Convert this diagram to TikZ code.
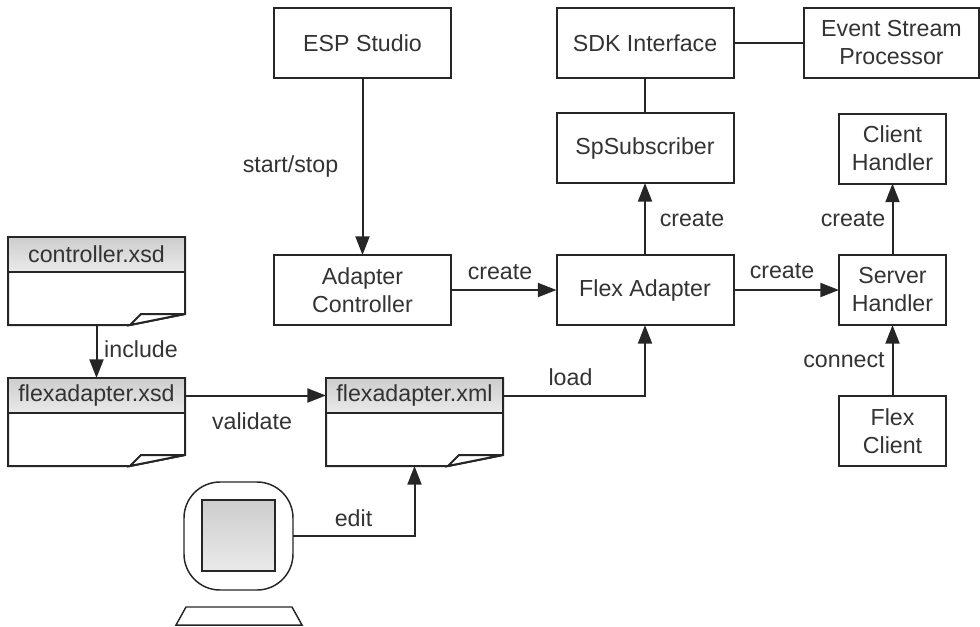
\documentclass[tikz,border=0pt]{standalone}
\usepackage{fontspec}
\setmainfont{Liberation Sans}
\usetikzlibrary{arrows.meta,calc}
\definecolor{ln}{HTML}{262626}
\definecolor{tx}{HTML}{333333}
\definecolor{gtop}{HTML}{CDCDCD}
\definecolor{gbot}{HTML}{EAEAEA}
\tikzset{
  x=0.75pt,y=-0.75pt,
  every node/.style={outer sep=0pt,inner sep=0pt,text=tx,font=\fontsize{17.4pt}{21pt}\selectfont,align=center},
  stroke/.style={draw=ln,line width=1.5pt,line join=miter},
  box/.style 2 args={stroke,fill=white,minimum width=#1*0.75pt,minimum height=#2*0.75pt},
  bigbox/.style={box={177}{70}},
  smallbox/.style={box={107}{70}},
  dochead/.style={stroke,top color=gtop,bottom color=gbot,minimum width=177*0.75pt,minimum height=35*0.75pt},
  docarea/.style={minimum width=177*0.75pt,minimum height=88*0.75pt},
  lab/.style={anchor=base},
  link/.style={draw=ln,line width=1.5pt},
  arrow/.style={link,-{Triangle[length=14pt,width=10.5pt]}},
}
\newcommand{\docshape}[1]{%
  \draw[stroke,fill=white] (#1.north west) -- (#1.north east) -- ($(#1.south east)+(0,-11)$)
    -- ($(#1.south east)+(-55,0)$) -- (#1.south west) -- cycle;
  \draw[stroke,fill=white] ($(#1.south east)+(0,-11)$) -- ($(#1.south east)+(-44,-11)$)
    -- ($(#1.south east)+(-55,0)$) -- cycle;
}
\begin{document}
\begin{tikzpicture}
\useasboundingbox (0,0) rectangle (980,626);
% boxes
\node[bigbox] (esp) at (362.5,43) {ESP Studio};
\node[bigbox] (sdk) at (645,43) {SDK Interface};
\node[box={175}{70}] (evt) at (891.5,43) {Event Stream\\Processor};
\node[bigbox] (sub) at (645,148) {SpSubscriber};
\node[smallbox] (cli) at (892.5,148.5) {Client\\Handler};
\node[bigbox] (ctl) at (362.5,290) {Adapter\\Controller};
\node[bigbox] (flx) at (645,290) {Flex Adapter};
\node[smallbox] (srv) at (892.5,290) {Server\\Handler};
\node[smallbox] (fcl) at (892.5,431) {Flex\\Client};
% documents
\node[docarea] (d1) at (96.5,281) {};
\docshape{d1}
\node[dochead,anchor=north] (h1) at (d1.north) {controller.xsd};
\node[docarea] (d2) at (96.5,422) {};
\docshape{d2}
\node[dochead,anchor=north] (h2) at (d2.north) {flexadapter.xsd};
\node[docarea] (d3) at (414.5,422) {};
\docshape{d3}
\node[dochead,anchor=north] (h3) at (d3.north) {flexadapter.xml};
% computer
\node[stroke,line width=1.1pt,rounded corners=27pt,minimum width=109*0.75pt,minimum height=108*0.75pt] (mon) at (238.5,536) {};
\node[stroke,top color=gtop,bottom color=gbot,minimum width=73*0.75pt,minimum height=71*0.75pt] (scr) at (238.5,535.5) {};
\draw[stroke,line width=1.1pt] (176,625) -- (186,607) -- (292,607) -- (302,625) -- cycle;
% connectors
\draw[arrow] (esp) -- (ctl);
\draw[arrow] (ctl) -- (flx);
\draw[arrow] (flx) -- (sub);
\draw[arrow] (flx) -- (srv);
\draw[arrow] (srv) -- (cli);
\draw[arrow] (fcl) -- (srv);
\draw[link] (sdk) -- (sub);
\draw[link] (sdk) -- (evt);
\draw[arrow] (d1.south) -- (h2.north);
\draw[arrow] (h2.east) -- (h3.west);
\draw[arrow] (h3.east) -| (flx.south);
\draw[arrow] (mon.east) -| (d3.south);
% labels
\node[lab] (l1) at (290.5,172) {start/stop};
\node[lab] (l2) at (500,279) {create};
\node[lab] (l3) at (692,226) {create};
\node[lab] (l4) at (782,278) {create};
\node[lab] (l5) at (853,226) {create};
\node[lab] (l6) at (844,367) {connect};
\node[lab] (l7) at (570.5,385) {load};
\node[lab] (l8) at (141,357) {include};
\node[lab] (l9) at (252,429) {validate};
\node[lab] (l10) at (353.5,526) {edit};
\end{tikzpicture}
\end{document}
